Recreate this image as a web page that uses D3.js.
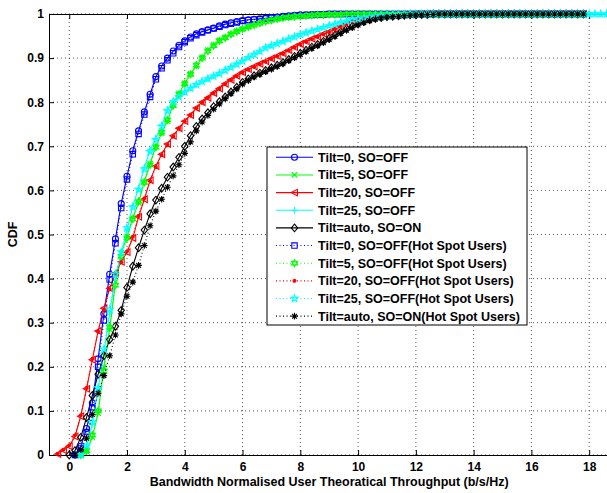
<!DOCTYPE html>
<html>
<head>
<meta charset="utf-8">
<title>CDF of throughput</title>
<script src="https://cdn.jsdelivr.net/npm/d3@7"></script>
<style>
  body { margin: 0; background: #fff; }
  text { font-family: "Liberation Sans", Arial, sans-serif; font-weight: bold; fill: #000; }
</style>
</head>
<body>
<svg id="chart" width="607" height="493"></svg>
<script>

// x positions of the CDF samples (b/s/Hz)
var xGrid = [
  -0.6,-0.4,-0.2,0,0.2,0.4,0.6,0.8,1,1.2,
  1.4,1.6,1.8,2,2.2,2.4,2.6,2.8,3,3.2,
  3.4,3.6,3.8,4,4.2,4.4,4.6,4.8,5,5.2,
  5.4,5.6,5.8,6,6.2,6.4,6.6,6.8,7,7.2,
  7.4,7.6,7.8,8,8.2,8.4,8.6,8.8,9,9.2,
  9.4,9.6,9.8,10,10.2,10.4,10.6,10.8,11,11.2,
  11.4,11.6,11.8,12,12.2,12.4,12.6,12.8,13,13.2,
  13.4,13.6,13.8,14,14.2,14.4,14.6,14.8,15,15.2,
  15.4,15.6,15.8,16,16.2,16.4,16.6,16.8,17,17.2,
  17.4,17.6,17.8,18,18.2,18.4,18.6
];

var xTicks = [0, 2, 4, 6, 8, 10, 12, 14, 16, 18];
var yTicks = [0, 0.1, 0.2, 0.3, 0.4, 0.5, 0.6, 0.7, 0.8, 0.9, 1];

// CDF values, one entry per xGrid point (null = no sample there)
var cdfTilt0 = [
  null,null,null,null,0.000,0.020,0.060,0.118,0.218,0.320,
  0.410,0.490,0.570,0.632,0.690,0.735,0.778,0.818,0.858,0.882,
  0.900,0.916,0.929,0.939,0.948,0.955,0.960,0.964,0.968,0.973,
  0.977,0.980,0.983,0.985,0.987,0.988,0.989,0.990,0.992,0.993,
  0.995,0.996,0.997,0.998,0.998,0.999,0.999,0.999,1,1,
  1,1,1,1,1,1,1,1,1,1,
  1,1,1,1,1,1,1,1,1,1,
  1,1,1,1,1,1,1,1,1,1,
  1,1,1,1,1,1,1,1,1,1,
  1,1,1,null,null,null,null
];
var cdfTilt5 = [
  null,null,null,null,null,0.000,0.008,0.040,0.095,0.200,
  0.285,0.392,0.458,0.494,0.538,0.572,0.620,0.661,0.700,0.730,
  0.757,0.795,0.820,0.843,0.865,0.882,0.902,0.918,0.930,0.940,
  0.947,0.955,0.961,0.966,0.971,0.976,0.980,0.984,0.987,0.989,
  0.991,0.993,0.994,0.995,0.996,0.997,0.998,0.998,0.999,0.999,
  0.999,1,1,1,1,1,1,1,1,1,
  1,1,1,1,1,1,1,1,1,1,
  1,1,1,1,1,1,1,1,1,1,
  1,1,1,1,1,1,1,1,1,1,
  1,1,1,null,null,null,null
];
var cdfTilt20 = [
  null,0.002,0.011,0.020,0.042,0.088,0.150,0.216,0.281,0.333,
  0.378,0.412,0.438,0.460,0.492,0.540,0.580,0.623,0.655,0.682,
  0.705,0.724,0.741,0.757,0.771,0.787,0.800,0.810,0.821,0.831,
  0.842,0.851,0.860,0.868,0.875,0.881,0.887,0.893,0.899,0.905,
  0.911,0.918,0.925,0.932,0.938,0.944,0.949,0.955,0.960,0.966,
  0.972,0.978,0.984,0.988,0.991,0.993,0.995,0.996,0.997,0.998,
  0.998,0.999,0.999,1,1,1,1,1,1,1,
  1,1,1,1,1,1,1,1,1,1,
  1,1,1,1,1,1,1,1,1,1,
  1,1,1,null,null,null,null
];
var cdfTilt25 = [
  null,null,null,null,null,0.000,0.018,0.070,0.150,0.232,
  0.322,0.405,0.455,0.510,0.565,0.605,0.652,0.692,0.718,0.748,
  0.783,0.803,0.814,0.825,0.833,0.840,0.847,0.854,0.860,0.867,
  0.874,0.881,0.888,0.895,0.903,0.910,0.917,0.925,0.930,0.935,
  0.940,0.945,0.950,0.955,0.959,0.963,0.967,0.971,0.975,0.978,
  0.982,0.985,0.988,0.990,0.992,0.994,0.995,0.996,0.997,0.998,
  0.998,0.999,0.999,1,1,1,1,1,1,1,
  1,1,1,1,1,1,1,1,1,1,
  1,1,1,1,1,1,1,1,1,1,
  1,1,1,1,1,1,1
];
var cdfTiltAuto = [
  null,null,null,0.000,0.010,0.040,0.085,0.135,0.183,0.225,
  0.262,0.292,0.328,0.380,0.428,0.470,0.510,0.547,0.578,0.605,
  0.630,0.653,0.675,0.700,0.724,0.745,0.762,0.776,0.790,0.801,
  0.812,0.823,0.834,0.845,0.853,0.860,0.866,0.872,0.878,0.884,
  0.890,0.897,0.904,0.911,0.918,0.925,0.931,0.938,0.945,0.952,
  0.959,0.966,0.972,0.978,0.983,0.987,0.990,0.992,0.994,0.995,
  0.996,0.997,0.998,0.998,0.999,0.999,1,1,1,1,
  1,1,1,1,1,1,1,1,1,1,
  1,1,1,1,1,1,1,1,1,1,
  1,1,1,null,null,null,null
];

// hot spot users
var cdfTilt0Hs = [
  null,null,null,null,0.000,0.015,0.052,0.108,0.200,0.305,
  0.398,0.480,0.560,0.625,0.682,0.728,0.772,0.812,0.852,0.877,
  0.895,0.911,0.925,0.936,0.945,0.952,0.958,0.963,0.967,0.971,
  0.975,0.978,0.981,0.984,0.986,0.987,0.988,0.990,0.991,0.992,
  0.994,0.995,0.996,0.997,0.998,0.998,0.999,0.999,1,1,
  1,1,1,1,1,1,1,1,1,1,
  1,1,1,1,1,1,1,1,1,1,
  1,1,1,1,1,1,1,1,1,1,
  1,1,1,1,1,1,1,1,1,1,
  1,1,1,null,null,null,null
];
var cdfTilt5Hs = [
  null,null,null,null,null,0.000,0.010,0.045,0.100,0.190,
  0.290,0.385,0.450,0.492,0.535,0.575,0.618,0.658,0.698,0.732,
  0.760,0.792,0.818,0.842,0.863,0.884,0.900,0.916,0.928,0.939,
  0.946,0.954,0.960,0.966,0.971,0.975,0.979,0.983,0.986,0.989,
  0.991,0.993,0.994,0.995,0.996,0.997,0.998,0.998,0.999,0.999,
  0.999,1,1,1,1,1,1,1,1,1,
  1,1,1,1,1,1,1,1,1,1,
  1,1,1,1,1,1,1,1,1,1,
  1,1,1,1,1,1,1,1,1,1,
  1,1,1,null,null,null,null
];
var cdfTilt20Hs = [
  null,0.003,0.012,0.022,0.045,0.090,0.152,0.218,0.280,0.330,
  0.376,0.410,0.437,0.462,0.495,0.542,0.582,0.621,0.653,0.680,
  0.703,0.722,0.740,0.756,0.770,0.786,0.799,0.810,0.820,0.830,
  0.841,0.850,0.859,0.867,0.874,0.880,0.886,0.892,0.898,0.904,
  0.910,0.917,0.924,0.931,0.937,0.943,0.948,0.954,0.959,0.965,
  0.971,0.977,0.983,0.987,0.990,0.993,0.995,0.996,0.997,0.998,
  0.998,0.999,0.999,1,1,1,1,1,1,1,
  1,1,1,1,1,1,1,1,1,1,
  1,1,1,1,1,1,1,1,1,1,
  1,1,1,null,null,null,null
];
var cdfTilt25Hs = [
  null,null,null,null,null,0.000,0.022,0.075,0.152,0.240,
  0.330,0.410,0.460,0.515,0.562,0.602,0.648,0.688,0.715,0.745,
  0.780,0.800,0.812,0.823,0.832,0.840,0.847,0.853,0.859,0.865,
  0.872,0.879,0.886,0.893,0.901,0.908,0.915,0.923,0.928,0.933,
  0.938,0.943,0.948,0.953,0.957,0.961,0.965,0.969,0.973,0.977,
  0.981,0.984,0.987,0.989,0.991,0.993,0.995,0.996,0.997,0.998,
  0.998,0.999,0.999,1,1,1,1,1,1,1,
  1,1,1,1,1,1,1,1,1,1,
  1,1,1,1,1,1,1,1,1,1,
  1,1,1,1,1,1,1
];
var cdfTiltAutoHs = [
  null,null,null,null,0.000,0.012,0.038,0.092,0.140,0.180,
  0.225,0.272,0.320,0.360,0.392,0.430,0.475,0.520,0.553,0.580,
  0.607,0.633,0.658,0.684,0.710,0.735,0.755,0.770,0.784,0.796,
  0.808,0.819,0.830,0.841,0.849,0.857,0.863,0.869,0.875,0.881,
  0.887,0.894,0.901,0.908,0.915,0.922,0.928,0.935,0.942,0.949,
  0.956,0.963,0.969,0.975,0.980,0.985,0.988,0.991,0.993,0.994,
  0.995,0.996,0.997,0.998,0.998,0.999,0.999,1,1,1,
  1,1,1,1,1,1,1,1,1,1,
  1,1,1,1,1,1,1,1,1,1,
  1,1,1,null,null,null,null
];

var seriesNames = [
  "Tilt=0, SO=OFF", "Tilt=5, SO=OFF", "Tilt=20, SO=OFF", "Tilt=25, SO=OFF", "Tilt=auto, SO=ON",
  "Tilt=0, SO=OFF(Hot Spot Users)", "Tilt=5, SO=OFF(Hot Spot Users)", "Tilt=20, SO=OFF(Hot Spot Users)",
  "Tilt=25, SO=OFF(Hot Spot Users)", "Tilt=auto, SO=ON(Hot Spot Users)"
];
var seriesValues = [cdfTilt0, cdfTilt5, cdfTilt20, cdfTilt25, cdfTiltAuto,
                    cdfTilt0Hs, cdfTilt5Hs, cdfTilt20Hs, cdfTilt25Hs, cdfTiltAutoHs];

// styles (matlab-ish)
var seriesColors = ["#0000ff", "#00ff00", "#ff0000", "#00ffff", "#000000",
                    "#0000ff", "#00ff00", "#ff0000", "#00ffff", "#000000"];
var seriesMarkers = ["o", "x", "<", "+", "d", "s", "h", ".", "p", "*"];
var seriesDotted = [false, false, false, false, false, true, true, true, true, true];

// plot area (careful: "top" is taken by window.top)
var plotLeft = 49, plotRight = 609.4, plotTop = 14, plotBottom = 455;

var svg = d3.select("#chart");

var x = d3.scaleLinear().domain([-0.7, 18.7]).range([plotLeft, plotRight]);
var y = d3.scaleLinear().domain([0, 1]).range([plotBottom, plotTop]);

//marker shapes, size = half width in px
function poly(c, pts) {
    c.moveTo(pts[0][0], pts[0][1]);
    for (var i = 1; i < pts.length; i++) c.lineTo(pts[i][0], pts[i][1]);
    c.closePath();
}
var markerTypes = {
    "o": { draw: function(c, r) { c.moveTo(r, 0); c.arc(0, 0, r, 0, 2 * Math.PI); } },
    "x": { draw: function(c, r) { c.moveTo(-r, -r); c.lineTo(r, r); c.moveTo(-r, r); c.lineTo(r, -r); } },
    "<": { draw: function(c, r) { poly(c, [[-r, 0], [r * 0.9, -r], [r * 0.9, r]]); } },
    "+": { draw: function(c, r) { c.moveTo(-r, 0); c.lineTo(r, 0); c.moveTo(0, -r); c.lineTo(0, r); } },
    "d": { draw: function(c, r) { poly(c, [[0, -r * 1.2], [r, 0], [0, r * 1.2], [-r, 0]]); } },
    "s": { draw: function(c, r) { c.rect(-r, -r, 2 * r, 2 * r); } },
    "h": { draw: function(c, r) {
        var up = [], down = [];
        for (var k = 0; k < 3; k++) {
            var a = -Math.PI / 2 + k * 2 * Math.PI / 3;
            up.push([r * Math.cos(a), r * Math.sin(a)]);
            down.push([r * Math.cos(a + Math.PI), r * Math.sin(a + Math.PI)]);
        }
        poly(c, up); poly(c, down);
    } },
    ".": { draw: function(c, r) { c.moveTo(r * 0.45, 0); c.arc(0, 0, r * 0.45, 0, 2 * Math.PI); } },
    "p": { draw: function(c, r) {
        var pts = [];
        for (var k = 0; k < 10; k++) {
            var a = -Math.PI / 2 + k * Math.PI / 5;
            var rr = (k % 2 === 0) ? r * 1.15 : r * 0.45;
            pts.push([rr * Math.cos(a), rr * Math.sin(a)]);
        }
        poly(c, pts);
    } },
    "*": { draw: function(c, r) {
        c.moveTo(-r, 0); c.lineTo(r, 0); c.moveTo(0, -r); c.lineTo(0, r);
        var q = r * 0.72;
        c.moveTo(-q, -q); c.lineTo(q, q); c.moveTo(-q, q); c.lineTo(q, -q);
    } }
};
var markerSize = {"o": 3, "x": 2.7, "<": 3.3, "+": 3.3, "d": 3.2, "s": 2.7, "h": 3.5, ".": 3.2, "p": 3.2, "*": 3.3};

function markerPath(m) {
    return d3.symbol().type(markerTypes[m]).size(markerSize[m])();
}

//grid
var grid = svg.append("g").attr("stroke", "#555").attr("stroke-width", 1)
    .attr("stroke-dasharray", "1,3").attr("fill", "none");
xTicks.forEach(function(t) {
    grid.append("line").attr("x1", x(t)).attr("x2", x(t)).attr("y1", plotTop).attr("y2", plotBottom);
});
yTicks.forEach(function(t) {
    grid.append("line").attr("x1", plotLeft).attr("x2", plotRight).attr("y1", y(t)).attr("y2", y(t));
});

//axes
var fmt = d3.format("~g");
svg.append("g").attr("transform", "translate(0," + plotBottom + ")")
    .call(d3.axisBottom(x).tickValues(xTicks).tickFormat(fmt).tickSizeInner(-5).tickSizeOuter(0).tickPadding(7.5));
svg.append("g").attr("transform", "translate(0," + plotTop + ")")
    .call(d3.axisTop(x).tickValues(xTicks).tickFormat("").tickSizeInner(-5).tickSizeOuter(0));
svg.append("g").attr("transform", "translate(" + plotLeft + ",0)")
    .call(d3.axisLeft(y).tickValues(yTicks).tickFormat(fmt).tickSizeInner(-5).tickSizeOuter(0).tickPadding(5));

svg.selectAll(".tick text").attr("font-size", 12).attr("font-family", null);
svg.selectAll(".domain, .tick line").attr("stroke", "#000");

//axis titles
svg.append("text")
    .attr("x", (plotLeft + plotRight) / 2).attr("y", 486)
    .attr("text-anchor", "middle").attr("font-size", 12.5)
    .text("Bandwidth Normalised User Theoratical Throughput (b/s/Hz)");
svg.append("text")
    .attr("transform", "translate(17," + (plotTop + plotBottom) / 2 + ") rotate(-90)")
    .attr("text-anchor", "middle").attr("font-size", 12.5)
    .text("CDF");

//curves
var line = d3.line()
    .defined(function(d) { return d[1] != null; })
    .x(function(d) { return x(d[0]); })
    .y(function(d) { return y(d[1]); });

seriesValues.forEach(function(vals, s) {
    var pts = xGrid.map(function(v, i) { return [v, vals[i]]; });
    var color = seriesColors[s];
    var m = seriesMarkers[s];
    var g = svg.append("g");

    g.append("path")
        .attr("d", line(pts))
        .attr("fill", "none")
        .attr("stroke", color)
        .attr("stroke-width", 1.1)
        .attr("stroke-dasharray", seriesDotted[s] ? "1,2.5" : null);

    g.selectAll("path.mk")
        .data(pts.filter(function(d) { return d[1] != null; }))
        .enter().append("path")
        .attr("class", "mk")
        .attr("transform", function(d) { return "translate(" + x(d[0]) + "," + y(d[1]) + ")"; })
        .attr("d", markerPath(m))
        .attr("fill", m === "." ? color : "none")
        .attr("stroke", color)
        .attr("stroke-width", 1.1);
});

//legend
var legX = 267, legY = 147, legW = 260, legH = 178, rowH = 17.65;
var legend = svg.append("g");
legend.append("rect")
    .attr("x", legX).attr("y", legY).attr("width", legW).attr("height", legH)
    .attr("fill", "#fff").attr("stroke", "#000").attr("stroke-width", 1);

seriesNames.forEach(function(name, s) {
    var ry = legY + 10.3 + s * rowH;
    var color = seriesColors[s];
    var m = seriesMarkers[s];
    legend.append("line")
        .attr("x1", legX + 9).attr("x2", legX + 46).attr("y1", ry).attr("y2", ry)
        .attr("stroke", color).attr("stroke-width", 1.1)
        .attr("stroke-dasharray", seriesDotted[s] ? "1,2.5" : null);
    legend.append("path")
        .attr("transform", "translate(" + (legX + 27.5) + "," + ry + ")")
        .attr("d", markerPath(m))
        .attr("fill", m === "." ? color : "none")
        .attr("stroke", color).attr("stroke-width", 1.1);
    legend.append("text")
        .attr("x", legX + 51).attr("y", ry).attr("dy", "0.36em")
        .attr("font-size", 12.5)
        .text(name);
});

</script>
</body>
</html>
